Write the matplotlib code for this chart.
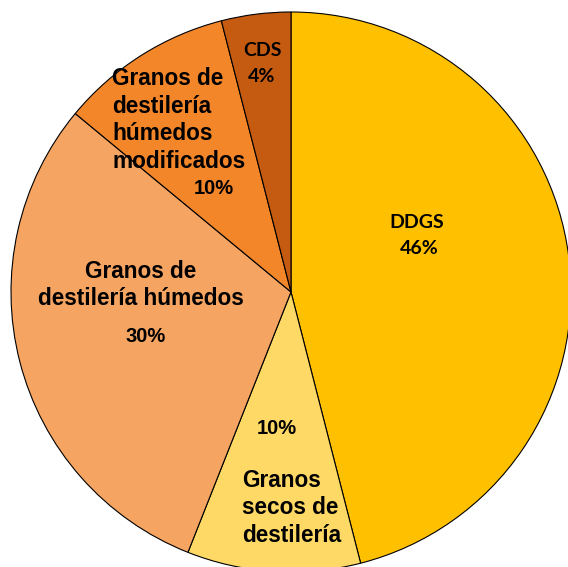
import matplotlib
matplotlib.use("Agg")
import matplotlib.pyplot as plt

categories = ["DDGS", "Granos secos de destilería", "Granos de destilería húmedos",
              "Granos de destilería húmedos modificados", "CDS"]
values = [46, 10, 30, 10, 4]
colors = ["#FFC000", "#FFD966", "#F5A461", "#F4862A", "#C55A11"]

W, H = 568, 567
fig = plt.figure(figsize=(W / 100, H / 100), dpi=100)
ax = fig.add_axes([0, 0, 1, 1])
ax.pie(values, colors=colors, startangle=90, counterclock=False,
       center=(291, H - 292), radius=280, frame=True,
       wedgeprops=dict(edgecolor="black", linewidth=0.8))
ax.set_xlim(0, W)
ax.set_ylim(0, H)
ax.set_aspect("equal")
ax.axis("off")

arial = ["Liberation Sans", "DejaVu Sans"]
calib = ["Lato", "DejaVu Sans"]

def t(x, y, s, size, fam, ha="center", ls=1.2):
    ax.text(x, H - y, s, fontsize=size, fontweight="bold", family=fam,
            ha=ha, va="center", linespacing=ls)

# DDGS
t(417, 222, "DDGS", 14, calib)
t(419, 249, "46%", 14, calib)
# CDS
t(262, 50, "CDS", 14, calib)
t(262, 76, "4%", 14, calib)
# modificados
t(112, 120, "Granos de\ndestilería\nhúmedos\nmodificados", 16.3, arial, ha="left", ls=1.27)
t(214, 189, "10%", 14.5, arial)
# húmedos
t(141, 285, "Granos de\ndestilería húmedos", 16.3, arial, ls=1.27)
t(146, 336, "30%", 14.5, arial)
# secos
t(277, 428, "10%", 14.5, arial)
t(242, 508, "Granos\nsecos de\ndestilería", 16.3, arial, ha="left", ls=1.27)

fig.savefig("out.png", dpi=100)
